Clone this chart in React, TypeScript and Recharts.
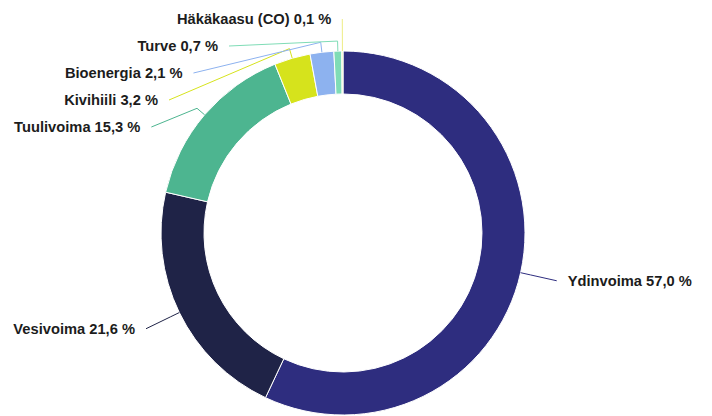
import React from 'react';
import { PieChart, Pie, Cell } from 'recharts';

// energy sources, share of production (%)
const sources = ['Ydinvoima', 'Vesivoima', 'Tuulivoima', 'Kivihiili', 'Bioenergia', 'Turve', 'Häkäkaasu (CO)'];
const shares = [57.0, 21.6, 15.3, 3.2, 2.1, 0.7, 0.1];
const colors = ['#2e2d7f', '#1f2347', '#4db590', '#d6e31c', '#8db2ef', '#7fdcb6', '#eeed86'];

const MARGIN = 5;
const CX = 343;
const CY = 233;
const INNER = 139;
const OUTER = 182;
const LABEL_DIST = 37;
const STUB = 10;
const SPACING = 27;
const TOP = 19;

const data = sources.map((name, i) => ({ name, value: shares[i] }));

// highcharts-like label distribution: push crowded labels down on each side
function layoutLabels() {
  const total = shares.reduce((a, b) => a + b, 0);
  const R = OUTER + LABEL_DIST;
  let acc = 0;
  const items = shares.map((v, i) => {
    const theta = ((acc + v / 2) / total) * 2 * Math.PI; // clockwise from top
    acc += v;
    const nx = CX + R * Math.sin(theta);
    const ny = CY - R * Math.cos(theta);
    return { i, theta, nx, ny, left: Math.sin(theta) < 0, x: nx, y: ny };
  });
  [true, false].forEach((side) => {
    const group = items.filter((p) => p.left === side).sort((a, b) => a.ny - b.ny);
    let prev = -Infinity;
    group.forEach((p) => {
      p.y = Math.max(p.ny, prev + SPACING, TOP);
      prev = p.y;
      if (Math.abs(p.y - p.ny) > 8) {
        const dy = p.y - CY;
        const dx = Math.sqrt(Math.max(R * R - dy * dy, 0));
        p.x = CX + (side ? -dx : dx);
      }
    });
  });
  return items.sort((a, b) => a.i - b.i);
}

const layout = layoutLabels();

const fmt = (v: number) => v.toFixed(1).replace('.', ',') + ' %';

const renderLabel = (props: any) => {
  const { index, cx, cy, midAngle, outerRadius } = props;
  const p = layout[index];
  const rad = (-midAngle * Math.PI) / 180;
  const ex = cx + Math.cos(rad) * outerRadius;
  const ey = cy + Math.sin(rad) * outerRadius;
  const bx = cx + Math.cos(rad) * (outerRadius + STUB);
  const by = cy + Math.sin(rad) * (outerRadius + STUB);
  const tx = p.left ? p.x - 11 : p.x + 11;
  return (
    <g key={`lbl-${index}`}>
      <path
        d={`M${p.x},${p.y}L${bx},${by}L${ex},${ey}`}
        fill="none"
        stroke={colors[index]}
        strokeWidth={1}
        strokeLinejoin="round"
      />
      <text
        x={tx}
        y={p.y}
        textAnchor={p.left ? 'end' : 'start'}
        dominantBaseline="central"
        fontFamily="'Liberation Sans', Arial, sans-serif"
        fontWeight="bold"
        fontSize={14.7}
        fill="#1c1c1c"
      >
        {`${sources[index]} ${fmt(shares[index])}`}
      </text>
    </g>
  );
};

export default function App() {
  return (
    <div style={{ position: 'absolute', left: 0, top: 0, width: 712, height: 416, background: '#fff' }}>
      <PieChart width={712} height={416}>
        <Pie
          data={data}
          dataKey="value"
          nameKey="name"
          cx={CX - MARGIN}
          cy={CY - MARGIN}
          innerRadius={INNER}
          outerRadius={OUTER}
          startAngle={90}
          endAngle={-270}
          stroke="#ffffff"
          strokeWidth={1}
          label={renderLabel}
          labelLine={false}
          isAnimationActive={false}
        >
          {data.map((d, i) => (
            <Cell key={d.name} fill={colors[i]} />
          ))}
        </Pie>
      </PieChart>
    </div>
  );
}
